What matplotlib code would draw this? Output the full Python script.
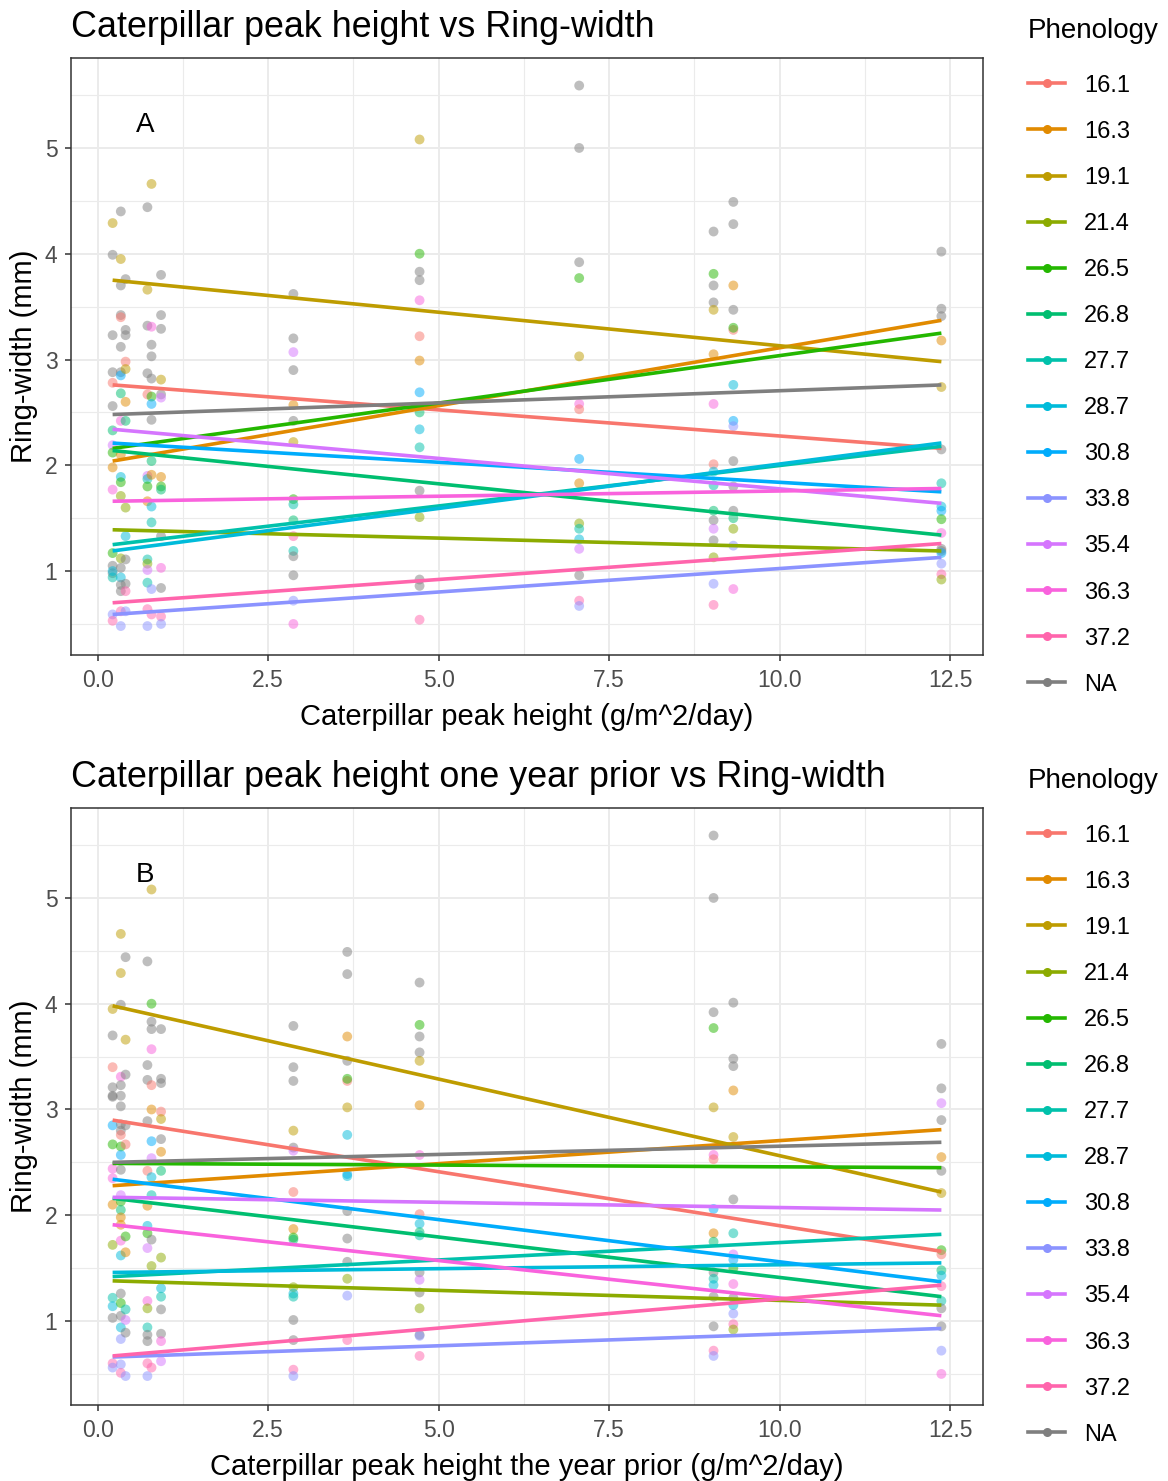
import matplotlib
matplotlib.use("Agg")
import matplotlib.pyplot as plt
from matplotlib.lines import Line2D
from matplotlib.ticker import MultipleLocator

plt.rcParams["font.family"] = ["Liberation Sans", "DejaVu Sans"]

PHENOLOGY = ["16.1", "16.3", "19.1", "21.4", "26.5", "26.8", "27.7",
             "28.7", "30.8", "33.8", "35.4", "36.3", "37.2", "NA"]
COLORS = ["#F8766D", "#E18A00", "#BE9C00", "#8CAB00", "#24B700", "#00BE70",
          "#00C1AB", "#00BBDA", "#00ACFC", "#8B93FF", "#D575FE", "#F962DD",
          "#FF65AC", "#7F7F7F"]

# ── Panel A: peak height in the same year ─────────────────────────────────────
a_x = [0.22, 0.34, 0.41, 0.73, 0.79, 0.93, 2.87, 4.72, 7.06, 9.03, 9.32, 12.37]
a_points = [
    [("NA", 3.99), ("19.1", 4.29), ("NA", 3.23), ("NA", 2.88), ("16.1", 2.78),
     ("NA", 2.56), ("26.8", 2.33), ("35.4", 2.19), ("26.5", 2.12), ("16.3", 1.98),
     ("36.3", 1.77), ("26.5", 1.17), ("NA", 1.05), ("NA", 0.98), ("27.7", 0.94),
     ("28.7", 1.00), ("33.8", 0.59), ("37.2", 0.53)],
    [("NA", 4.40), ("19.1", 3.95), ("NA", 3.70), ("NA", 3.42), ("16.1", 3.40),
     ("NA", 3.12), ("NA", 2.88), ("30.8", 2.85), ("26.8", 2.68), ("36.3", 2.42),
     ("16.3", 2.10), ("28.7", 1.89), ("26.5", 1.84), ("21.4", 1.71), ("21.4", 1.12),
     ("NA", 1.03), ("28.7", 0.94), ("NA", 0.87), ("NA", 0.81), ("37.2", 0.62),
     ("33.8", 0.48)],
    [("NA", 3.76), ("NA", 3.28), ("NA", 3.23), ("16.1", 2.98), ("19.1", 2.91),
     ("16.3", 2.60), ("26.8", 2.42), ("21.4", 1.60), ("28.7", 1.33), ("NA", 1.11),
     ("NA", 0.88), ("37.2", 0.81), ("33.8", 0.62)],
    [("NA", 4.44), ("19.1", 3.66), ("NA", 3.32), ("NA", 2.87), ("16.1", 2.67),
     ("35.4", 1.90), ("27.7", 1.87), ("26.5", 1.80), ("16.3", 1.66), ("27.7", 1.11),
     ("21.4", 1.07), ("35.4", 1.01), ("27.7", 0.89), ("37.2", 0.64), ("33.8", 0.48)],
    [("19.1", 4.66), ("36.3", 3.31), ("NA", 3.14), ("NA", 3.03), ("NA", 2.82),
     ("26.5", 2.65), ("30.8", 2.58), ("NA", 2.43), ("26.8", 2.04), ("16.3", 1.91),
     ("28.7", 1.61), ("27.7", 1.46), ("33.8", 0.83), ("37.2", 0.59)],
    [("NA", 3.80), ("NA", 3.42), ("NA", 3.29), ("19.1", 2.81), ("NA", 2.67),
     ("35.4", 2.64), ("16.3", 1.89), ("26.5", 1.80), ("26.8", 1.77), ("NA", 1.33),
     ("36.3", 1.03), ("NA", 0.84), ("37.2", 0.57), ("33.8", 0.50)],
    [("NA", 3.62), ("NA", 3.20), ("35.4", 3.07), ("NA", 2.90), ("16.3", 2.57),
     ("NA", 2.42), ("19.1", 2.22), ("26.5", 1.68), ("27.7", 1.63), ("26.8", 1.48),
     ("37.2", 1.33), ("27.7", 1.19), ("NA", 1.14), ("NA", 0.96), ("33.8", 0.72),
     ("36.3", 0.50)],
    [("19.1", 5.08), ("26.5", 4.00), ("NA", 3.83), ("NA", 3.75), ("36.3", 3.56),
     ("16.1", 3.22), ("16.3", 2.99), ("30.8", 2.69), ("26.8", 2.50), ("28.7", 2.34),
     ("27.7", 2.17), ("NA", 1.76), ("21.4", 1.51), ("NA", 0.92), ("NA", 0.86),
     ("37.2", 0.54)],
    [("NA", 5.59), ("NA", 5.00), ("NA", 3.92), ("26.5", 3.77), ("19.1", 3.03),
     ("36.3", 2.58), ("16.1", 2.53), ("30.8", 2.06), ("16.3", 1.83), ("21.4", 1.45),
     ("27.7", 1.40), ("28.7", 1.30), ("35.4", 1.21), ("NA", 0.96), ("37.2", 0.72),
     ("33.8", 0.67)],
    [("NA", 4.21), ("26.5", 3.81), ("NA", 3.70), ("NA", 3.54), ("19.1", 3.47),
     ("16.3", 3.05), ("36.3", 2.58), ("16.1", 2.01), ("28.7", 1.94), ("27.7", 1.81),
     ("26.8", 1.57), ("NA", 1.48), ("35.4", 1.40), ("NA", 1.29), ("21.4", 1.13),
     ("33.8", 0.88), ("37.2", 0.68)],
    [("NA", 4.49), ("NA", 4.28), ("16.3", 3.70), ("NA", 3.47), ("16.1", 3.28),
     ("26.5", 3.30), ("28.7", 2.76), ("30.8", 2.42), ("33.8", 2.37), ("NA", 2.04),
     ("NA", 1.80), ("NA", 1.57), ("26.8", 1.50), ("21.4", 1.40), ("33.8", 1.24),
     ("36.3", 0.83)],
    [("NA", 4.02), ("NA", 3.48), ("NA", 3.41), ("16.3", 3.18), ("19.1", 2.74),
     ("NA", 2.15), ("27.7", 1.83), ("28.7", 1.61), ("30.8", 1.57), ("26.5", 1.49),
     ("36.3", 1.36), ("NA", 1.21), ("NA", 1.19), ("30.8", 1.17), ("33.8", 1.07),
     ("37.2", 0.97), ("21.4", 0.92)],
]
# lm fits per phenology group (intercept, slope)
a_intercept = [2.771, 2.016, 3.764, 1.394, 2.140, 2.154, 1.233,
               1.172, 2.218, 0.580, 2.353, 1.658, 0.690, 2.475]
a_slope = [-0.0494, 0.1095, -0.0634, -0.0165, 0.0897, -0.0658, 0.0765,
           0.0840, -0.0379, 0.0444, -0.0576, 0.0099, 0.0461, 0.0230]

# ── Panel B: peak height one year prior ───────────────────────────────────────
b_x = [0.22, 0.34, 0.41, 0.73, 0.79, 0.93, 2.87, 3.66, 4.72, 9.03, 9.32, 12.37]
b_points = [
    [("19.1", 3.95), ("NA", 3.70), ("16.1", 3.40), ("NA", 3.21), ("NA", 3.12),
     ("NA", 3.13), ("30.8", 2.85), ("26.5", 2.67), ("36.3", 2.44), ("36.3", 2.35),
     ("16.3", 2.10), ("21.4", 1.72), ("27.7", 1.22), ("28.7", 1.14), ("NA", 1.03),
     ("37.2", 0.60), ("33.8", 0.56)],
    [("19.1", 4.66), ("19.1", 4.29), ("NA", 3.99), ("36.3", 3.31), ("NA", 3.23),
     ("NA", 3.13), ("NA", 3.03), ("NA", 2.86), ("NA", 2.80), ("16.1", 2.76),
     ("26.5", 2.65), ("30.8", 2.57), ("NA", 2.43), ("35.4", 2.19), ("26.5", 2.13),
     ("26.8", 2.05), ("16.3", 1.98), ("16.3", 1.91), ("36.3", 1.76), ("28.7", 1.62),
     ("NA", 1.26), ("26.5", 1.17), ("NA", 1.05), ("28.7", 0.94), ("33.8", 0.83),
     ("33.8", 0.59), ("37.2", 0.51)],
    [("NA", 4.44), ("19.1", 3.66), ("NA", 3.33), ("NA", 2.85), ("16.1", 2.67),
     ("26.5", 1.80), ("16.3", 1.65), ("27.7", 1.11), ("35.4", 1.01), ("NA", 0.89),
     ("33.8", 0.48)],
    [("NA", 4.40), ("NA", 3.42), ("NA", 3.28), ("NA", 2.89), ("16.1", 2.42),
     ("16.3", 2.09), ("28.7", 1.90), ("26.5", 1.83), ("35.4", 1.69), ("36.3", 1.19),
     ("21.4", 1.12), ("27.7", 0.94), ("NA", 0.87), ("NA", 0.81), ("37.2", 0.60),
     ("33.8", 0.48)],
    [("19.1", 5.08), ("26.5", 4.00), ("NA", 3.83), ("NA", 3.76), ("36.3", 3.57),
     ("16.1", 3.23), ("16.3", 3.00), ("30.8", 2.70), ("35.4", 2.54), ("28.7", 2.36),
     ("27.7", 2.19), ("NA", 1.77), ("21.4", 1.52), ("37.2", 0.56)],
    [("NA", 3.76), ("NA", 3.29), ("NA", 3.25), ("16.1", 2.98), ("19.1", 2.91),
     ("NA", 2.72), ("16.3", 2.60), ("26.8", 2.42), ("21.4", 1.60), ("28.7", 1.31),
     ("27.7", 1.23), ("NA", 1.11), ("NA", 0.88), ("36.3", 0.81), ("35.4", 0.62)],
    [("NA", 3.79), ("NA", 3.40), ("NA", 3.27), ("19.1", 2.80), ("NA", 2.64),
     ("35.4", 2.61), ("16.1", 2.22), ("16.3", 1.87), ("26.5", 1.79), ("26.8", 1.77),
     ("21.4", 1.32), ("28.7", 1.26), ("27.7", 1.23), ("NA", 1.01), ("NA", 0.82),
     ("37.2", 0.54), ("33.8", 0.48)],
    [("NA", 4.49), ("NA", 4.28), ("16.3", 3.69), ("NA", 3.46), ("16.1", 3.27),
     ("26.5", 3.29), ("19.1", 3.02), ("28.7", 2.76), ("30.8", 2.39), ("28.7", 2.37),
     ("NA", 2.04), ("NA", 1.78), ("NA", 1.56), ("21.4", 1.40), ("33.8", 1.24),
     ("37.2", 0.82)],
    [("NA", 4.20), ("26.5", 3.80), ("NA", 3.69), ("NA", 3.54), ("19.1", 3.46),
     ("16.3", 3.04), ("36.3", 2.57), ("16.1", 2.01), ("28.7", 1.92), ("26.8", 1.84),
     ("27.7", 1.81), ("NA", 1.46), ("35.4", 1.39), ("NA", 1.27), ("21.4", 1.12),
     ("NA", 0.87), ("33.8", 0.86), ("37.2", 0.67)],
    [("NA", 5.59), ("NA", 5.00), ("NA", 3.92), ("26.5", 3.77), ("19.1", 3.02),
     ("36.3", 2.57), ("16.1", 2.53), ("30.8", 2.06), ("16.3", 1.83), ("26.8", 1.75),
     ("NA", 1.46), ("27.7", 1.40), ("28.7", 1.34), ("NA", 1.23), ("NA", 0.95),
     ("37.2", 0.72), ("33.8", 0.67)],
    [("NA", 4.01), ("NA", 3.48), ("NA", 3.41), ("16.3", 3.18), ("19.1", 2.74),
     ("NA", 2.15), ("27.7", 1.83), ("35.4", 1.63), ("30.8", 1.58), ("26.5", 1.50),
     ("36.3", 1.35), ("NA", 1.22), ("28.7", 1.15), ("33.8", 1.07), ("37.2", 0.97),
     ("21.4", 0.92)],
    [("NA", 3.62), ("NA", 3.20), ("35.4", 3.06), ("NA", 2.90), ("16.3", 2.55),
     ("NA", 2.42), ("19.1", 2.21), ("26.5", 1.67), ("16.1", 1.63), ("26.8", 1.48),
     ("28.7", 1.43), ("37.2", 1.33), ("27.7", 1.19), ("NA", 1.12), ("NA", 0.95),
     ("33.8", 0.72), ("36.3", 0.50)],
]
b_intercept = [2.922, 2.270, 4.012, 1.384, 2.491, 2.177, 1.413,
               1.458, 2.358, 0.655, 2.172, 1.926, 0.658, 2.497]
b_slope = [-0.1021, 0.0436, -0.1449, -0.0189, -0.0033, -0.0765, 0.0329,
           0.0074, -0.0798, 0.0222, -0.0099, -0.0708, 0.0551, 0.0156]


def draw_panel(ax, xs, points, intercepts, slopes, title, xlabel, tag):
    color_of = dict(zip(PHENOLOGY, COLORS))
    px, py, pc = [], [], []
    for x, col in zip(xs, points):
        for group, y in col:
            px.append(x)
            py.append(y)
            pc.append(color_of[group])
    ax.scatter(px, py, c=pc, s=50, alpha=0.5, linewidths=0, zorder=3)

    x0, x1 = min(xs), max(xs)
    for b0, b1, c in zip(intercepts, slopes, COLORS):
        ax.plot([x0, x1], [b0 + b1 * x0, b0 + b1 * x1], color=c, lw=2.6,
                solid_capstyle="butt", zorder=4)

    ax.text(0.7, 5.22, tag, fontsize=20, ha="center", va="center", zorder=5)

    # theme_bw look
    ax.set_xlim(-0.39, 12.98)
    ax.set_ylim(0.206, 5.85)
    ax.xaxis.set_minor_locator(MultipleLocator(1.25))
    ax.yaxis.set_major_locator(MultipleLocator(1))
    ax.yaxis.set_minor_locator(MultipleLocator(0.5))
    ax.set_xticks([0, 2.5, 5, 7.5, 10, 12.5])
    ax.set_xticklabels(["0.0", "2.5", "5.0", "7.5", "10.0", "12.5"])
    ax.grid(which="major", color="#EBEBEB", lw=1.4, zorder=0)
    ax.grid(which="minor", color="#EBEBEB", lw=0.8, zorder=0)
    ax.set_axisbelow(True)
    for sp in ax.spines.values():
        sp.set_color("#333333")
        sp.set_linewidth(1.1)
    ax.tick_params(which="major", length=4.3, width=1.1, color="#333333",
                   labelsize=16.5, labelcolor="#4D4D4D", pad=5.5)
    ax.tick_params(which="minor", length=0)
    ax.set_xlabel(xlabel, fontsize=21, labelpad=8)
    ax.set_ylabel("Ring-width (mm)", fontsize=21, labelpad=5)
    ax.set_title(title, fontsize=25.8, loc="left", pad=15.5)

    handles = [Line2D([], [], color=c, lw=2.6, marker="o", markersize=6.5,
                      markeredgewidth=0) for c in COLORS]
    leg = ax.legend(handles, PHENOLOGY, title="Phenology", loc="upper left",
                    bbox_to_anchor=(1.049, 1.067), frameon=False, fontsize=17,
                    title_fontsize=20, handlelength=1.6, handletextpad=0.8,
                    labelspacing=1.02, borderpad=0, borderaxespad=0,
                    alignment="left")
    leg._legend_box.sep = 22


fig = plt.figure(figsize=(11.68, 14.81), dpi=100)
ax_a = fig.add_axes([0.0608, 0.5577, 0.7808, 0.4031])
ax_b = fig.add_axes([0.0608, 0.0513, 0.7808, 0.4031])

draw_panel(ax_a, a_x, a_points, a_intercept, a_slope,
           "Caterpillar peak height vs Ring-width",
           "Caterpillar peak height (g/m^2/day)", "A")
draw_panel(ax_b, b_x, b_points, b_intercept, b_slope,
           "Caterpillar peak height one year prior vs Ring-width",
           "Caterpillar peak height the year prior (g/m^2/day)", "B")

fig.savefig("out.png", dpi=100)
